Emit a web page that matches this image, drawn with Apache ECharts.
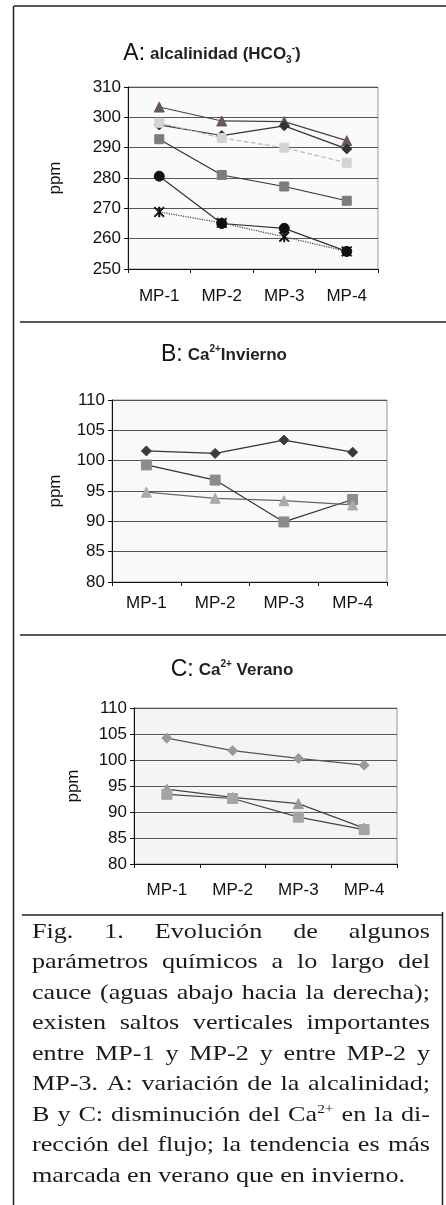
<!DOCTYPE html>
<html><head><meta charset="utf-8">
<script src="https://cdn.jsdelivr.net/npm/echarts@6/dist/echarts.min.js"></script>
<style>html,body{margin:0;padding:0;background:#fff}#c{width:446px;height:1205px}</style>
</head><body><div id="c"></div>
<script>
// ---- data ----
const categories = ['MP-1', 'MP-2', 'MP-3', 'MP-4'];
// Panel A: alcalinidad (ppm)
const alcTriangle = [303.4, 298.8, 298.6, 292.3];
const alcDiamond  = [297.5, 294.0, 297.2, 289.6];
const alcLight    = [298.2, 293.2, 290.0, 285.0];
const alcSquare   = [292.8, 281.0, 277.2, 272.5];
const alcCircle   = [280.6, 265.0, 263.4, 255.8];
const alcStar     = [268.8, 265.2, 260.6, 255.8];
// Panel B: Ca2+ invierno (ppm)
const caInvDiamond  = [101.6, 101.2, 103.4, 101.4];
const caInvSquare   = [99.3, 96.8, 89.9, 93.6];
const caInvTriangle = [94.8, 93.8, 93.4, 92.7];
// Panel C: Ca2+ verano (ppm)
const caVerDiamond  = [104.2, 101.8, 100.3, 99.0];
const caVerTriangle = [94.4, 92.8, 91.6, 86.9];
const caVerSquare   = [93.4, 92.6, 89.0, 86.6];
// tick settings
const yA = {min: 250, max: 310, interval: 10};
const yB = {min: 80, max: 110, interval: 5};
const yC = {min: 80, max: 110, interval: 5};
// caption
const captionLines = [
  'Fig. 1. Evolución de algunos',
  'parámetros químicos a lo largo del',
  'cauce (aguas abajo hacia la derecha);',
  'existen saltos verticales importantes',
  'entre MP-1 y MP-2 y entre MP-2 y',
  'MP-3. A: variación de la alcalinidad;',
  'B y C: disminución del Ca{2+} en la di-',
  'rección del flujo; la tendencia es más',
  'marcada en verano que en invierno.'
];

const SANS = '"Liberation Sans", Arial, sans-serif';
const SERIF = '"Liberation Serif", "Times New Roman", serif';
const starPath = 'path://M0,0.8L0.8,0L10,9.2L9.2,10Z M10,0.8L9.2,0L0,9.2L0.8,10Z M4.5,0H5.5V10H4.5Z';

function mkX(gi, fs, margin) {
  return {
    type: 'category', gridIndex: gi, data: categories,
    axisLine: {lineStyle: {color: '#111', width: 1}},
    axisTick: {show: true, length: 4, lineStyle: {color: '#111'}},
    axisLabel: {color: '#111', fontFamily: SANS, fontSize: fs, margin: margin},
    splitLine: {show: false}
  };
}
function mkY(gi, cfg, fs, nameGap) {
  return {
    type: 'value', gridIndex: gi, min: cfg.min, max: cfg.max, interval: cfg.interval,
    name: 'ppm', nameLocation: 'middle', nameRotate: 90, nameGap: nameGap,
    nameTextStyle: {color: '#111', fontFamily: SANS, fontSize: 17},
    axisLine: {show: true, lineStyle: {color: '#111', width: 1}},
    axisTick: {show: true, length: 4, lineStyle: {color: '#111'}},
    axisLabel: {color: '#111', fontFamily: SANS, fontSize: fs, margin: 7},
    splitLine: {show: true, lineStyle: {color: '#555', width: 1}}
  };
}
function mkS(gi, data, symbol, size, mColor, lColor, lType, lWidth) {
  return {
    type: 'line', xAxisIndex: gi, yAxisIndex: gi, data: data,
    symbol: symbol, symbolSize: size, showAllSymbol: true,
    itemStyle: {color: mColor, borderColor: mColor, opacity: 1},
    lineStyle: {color: lColor, width: lWidth || 1.2, type: lType || 'solid'},
    emphasis: {disabled: true}, animation: false
  };
}

const subRich = {
  big: {fontFamily: SANS, fontSize: 23, fontWeight: 'normal', color: '#111', lineHeight: 22},
  t: {fontFamily: SANS, fontSize: 17, fontWeight: 'bold', color: '#222', lineHeight: 22},
  sub: {fontFamily: SANS, fontSize: 10, fontWeight: 'bold', color: '#222', verticalAlign: 'bottom', lineHeight: 12},
  sup: {fontFamily: SANS, fontSize: 10, fontWeight: 'bold', color: '#222', verticalAlign: 'top', lineHeight: 14}
};
function mkTitle(text, cx, cy) {
  return {
    text: text, left: cx, top: cy - 11, textAlign: 'center', padding: 0,
    textStyle: {rich: subRich}
  };
}

// caption graphics (justified lines, horizontally stretched like the scan)
const cv = document.createElement('canvas').getContext('2d');
const capFS = 22, supFS = 13;
function measure(word) {
  let w = 0;
  const m = word.match(/^(.*)\{(.*)\}$/);
  cv.font = capFS + 'px ' + SERIF;
  if (m) {
    w += cv.measureText(m[1]).width;
    cv.font = supFS + 'px ' + SERIF;
    w += cv.measureText(m[2]).width;
  } else {
    w += cv.measureText(word).width;
  }
  return w;
}
const capLeft = 32, capRight = 430, capBase0 = 939, capStep = 30.5, lastLineWidth = 373;
cv.font = capFS + 'px ' + SERIF;
const capScale = lastLineWidth / cv.measureText(captionLines[captionLines.length - 1]).width;
const captionGraphics = [];
captionLines.forEach((line, i) => {
  const words = line.split(' ');
  const widths = words.map(w => measure(w) * capScale);
  const total = widths.reduce((a, b) => a + b, 0);
  const last = i === captionLines.length - 1;
  cv.font = capFS + 'px ' + SERIF;
  const gap = last ? cv.measureText(' ').width * capScale : (capRight - capLeft - total) / (words.length - 1);
  let x = capLeft;
  const y = capBase0 + i * capStep - 7;
  words.forEach((w, k) => {
    const m = w.match(/^(.*)\{(.*)\}$/);
    const text = m ? '{n|' + m[1] + '}{s|' + m[2] + '}' : w;
    captionGraphics.push({
      type: 'text', x: x, y: y, scaleX: capScale, silent: true,
      style: {
        text: text, fill: '#1a1a1a', font: capFS + 'px ' + SERIF,
        verticalAlign: 'middle', align: 'left',
        rich: {
          n: {fontFamily: SERIF, fontSize: capFS, fill: '#1a1a1a', lineHeight: 24},
          s: {fontFamily: SERIF, fontSize: supFS, fill: '#1a1a1a', verticalAlign: 'top', lineHeight: 16}
        }
      }
    });
    x += widths[k] + gap;
  });
});

const frame = [
  {type: 'line', shape: {x1: 14, y1: 6, x2: 446, y2: 6}, style: {stroke: '#222', lineWidth: 1.5}},
  {type: 'line', shape: {x1: 13.5, y1: 6, x2: 13.5, y2: 1205}, style: {stroke: '#222', lineWidth: 1.5}},
  {type: 'line', shape: {x1: 20, y1: 322, x2: 446, y2: 322}, style: {stroke: '#222', lineWidth: 1.5}},
  {type: 'line', shape: {x1: 20, y1: 635, x2: 446, y2: 635}, style: {stroke: '#222', lineWidth: 1.5}},
  {type: 'line', shape: {x1: 22, y1: 915, x2: 442, y2: 915}, style: {stroke: '#222', lineWidth: 1.5}},
  {type: 'line', shape: {x1: 442.5, y1: 912, x2: 442.5, y2: 1205}, style: {stroke: '#222', lineWidth: 1.5}}
];

const chart = echarts.init(document.getElementById('c'), null, {renderer: 'canvas'});
chart.setOption({
  backgroundColor: '#fff',
  animation: false,
  title: [
    mkTitle('{big|A:} {t|alcalinidad (HCO}{sub|3}{sup|-}{t|)}', 212, 54),
    mkTitle('{big|B:} {t|Ca}{sup|2+}{t|Invierno}', 224, 355),
    mkTitle('{big|C:} {t|Ca}{sup|2+}{t| Verano}', 232, 670)
  ],
  grid: [
    {left: 128, top: 87, width: 250, height: 182, show: true, backgroundColor: '#fafafa', borderColor: '#999', borderWidth: 1},
    {left: 112, top: 400, width: 275, height: 182, show: true, backgroundColor: '#f9f9f9', borderColor: '#999', borderWidth: 1},
    {left: 134, top: 708, width: 263, height: 156, show: true, backgroundColor: '#f4f4f4', borderColor: '#999', borderWidth: 1}
  ],
  xAxis: [mkX(0, 17, 19), mkX(1, 17, 13), mkX(2, 17, 18)],
  yAxis: [mkY(0, yA, 17, 64), mkY(1, yB, 17, 48), mkY(2, yC, 17, 52)],
  series: [
    mkS(0, alcTriangle, 'triangle', 10, '#6a5858', '#444'),
    mkS(0, alcDiamond, 'diamond', 10, '#333', '#333'),
    mkS(0, alcLight, 'rect', 9, '#d4d4d4', '#b8b8b8', 'dashed'),
    mkS(0, alcSquare, 'rect', 9, '#7c7c7c', '#333'),
    mkS(0, alcCircle, 'circle', 10, '#111', '#333'),
    mkS(0, alcStar, starPath, 10, '#111', '#444', 'dotted'),
    mkS(1, caInvDiamond, 'diamond', 10, '#3a3a3a', '#333'),
    mkS(1, caInvSquare, 'rect', 10, '#8c8c8c', '#333'),
    mkS(1, caInvTriangle, 'triangle', 10, '#aaaaaa', '#666'),
    mkS(2, caVerDiamond, 'diamond', 10, '#9a9a9a', '#555'),
    mkS(2, caVerTriangle, 'triangle', 10, '#9a9a9a', '#444'),
    mkS(2, caVerSquare, 'rect', 10, '#a4a4a4', '#444')
  ],
  graphic: frame.concat(captionGraphics)
});
</script></body></html>
